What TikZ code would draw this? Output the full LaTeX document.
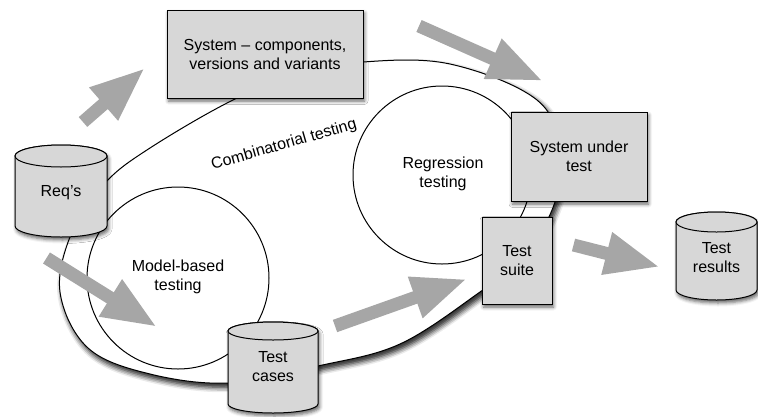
\documentclass[tikz,border=0pt]{standalone}
\usepackage{fontspec}
\setmainfont{Liberation Sans}
\usetikzlibrary{arrows.meta,shadows.blur}

\definecolor{boxgray}{RGB}{215,215,215}
\definecolor{arrowgray}{RGB}{166,166,166}

\tikzset{
  lbl/.style={align=center, font=\fontsize{16}{19}\selectfont, inner sep=0pt},
  softshadow/.style={blur shadow={shadow xshift=1.5pt, shadow yshift=-3pt,
      shadow blur radius=3.5pt, shadow opacity=60}},
  boxnode/.style={draw, line width=1pt, fill=boxgray, softshadow, lbl},
  cylbody/.style={draw, line width=1pt, fill=boxgray},
  areashape/.style={draw, line width=1pt, fill=white},
  bigarrow/.style={draw=arrowgray, line width=13pt,
      -{Triangle[length=55pt, width=40pt, fill=arrowgray]}},
}

% database drum: centre x, half width, lid centre y, base centre y, ellipse radius
\newcommand\dbdrum[5]{%
  \path[cylbody, softshadow] ({#1-#2},#3) -- ({#1-#2},#4)
    arc[start angle=180, end angle=0, x radius=#2, y radius=#5]
    -- ({#1+#2},#3)
    arc[start angle=0, end angle=-180, x radius=#2, y radius=#5] -- cycle;
  \path[cylbody] (#1,#3) ellipse[x radius=#2, y radius=#5];
}

\begin{document}
\begin{tikzpicture}[x=1pt, y=-1pt]
\useasboundingbox (0,0) rectangle (758,416);

% combinatorial testing area
\path[areashape, softshadow, blur shadow={shadow yshift=-4pt, shadow blur radius=5pt}]
  plot[smooth cycle, tension=0.6] coordinates {
    (60,292) (72,232) (105,183) (150,148) (233,100) (300,74) (363,62)
    (450,64) (537,100) (562,155) (552,210) (520,260) (480,292) (400,344)
    (318,366) (230,383) (150,374) (88,348)};
\node[lbl, rotate=16] (comb) at (284,145) {Combinatorial testing};

% the two technique circles
\path[areashape] (178,278) circle[radius=91];
\node[lbl] (mbt) at (178,277) {Model-based\\testing};
\path[areashape] (442,175) circle[radius=89];
\node[lbl] (reg) at (443,174) {Regression\\testing};

% flow arrows
\coordinate (a1s) at (83,122);   \coordinate (a1e) at (145,68);
\coordinate (a2s) at (419,26);   \coordinate (a2e) at (543,81);
\coordinate (a3s) at (46.5,258); \coordinate (a3e) at (157,327);
\coordinate (a4s) at (335,326);  \coordinate (a4e) at (467,279);
\coordinate (a5s) at (573.5,245);\coordinate (a5e) at (660,267);
\draw[bigarrow] (a1s) -- (a1e);
\draw[bigarrow] (a2s) -- (a2e);
\draw[bigarrow] (a3s) -- (a3e);
\draw[bigarrow] (a4s) -- (a4e);
\draw[bigarrow] (a5s) -- (a5e);

% artefacts
\node[boxnode, minimum width=196, minimum height=88] (sys) at (265,54)
  {System -- components,\\versions and variants};
\node[boxnode, minimum width=136, minimum height=89] (sut) at (579,156.5)
  {System under\\test};
\node[boxnode, minimum width=70, minimum height=87] (suite) at (517,260.5)
  {Test\\suite};

\dbdrum{61}{46}{156}{226}{11}
\node[lbl] (req) at (61,193) {Req's};
\dbdrum{273}{45}{331}{404}{9}
\node[lbl] (cases) at (273,367) {Test\\cases};
\dbdrum{716.5}{40.5}{222}{290}{10}
\node[lbl] (results) at (716.5,258) {Test\\results};
\end{tikzpicture}
\end{document}
